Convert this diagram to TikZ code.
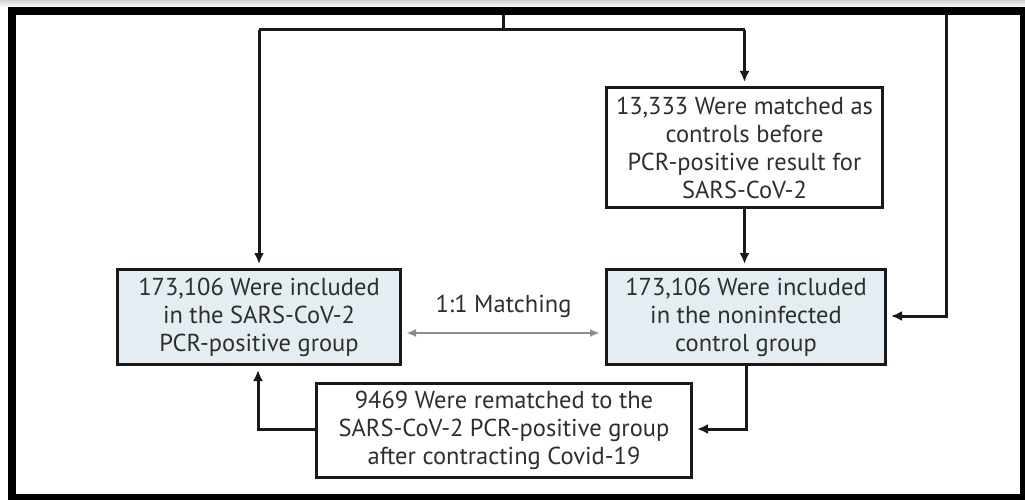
\documentclass[tikz,border=0pt]{standalone}
\usepackage{fontspec}
\setmainfont{PT Sans}
\usetikzlibrary{arrows.meta}
\definecolor{boxfill}{HTML}{E4EDF2}
\definecolor{txt}{HTML}{2E2E2E}
\begin{document}
\begin{tikzpicture}[x=1pt,y=-1pt,
  every node/.style={inner sep=0pt},
  box/.style={draw=black!90, line width=3pt, align=center, text=txt,
    font=\fontsize{24.5}{28}\selectfont},
  conn/.style={line width=3pt, draw=black!90, -{Latex[length=11pt,width=10pt]}, shorten >=4pt},
  plain/.style={line width=3pt, draw=black!90},
  match/.style={line width=2pt, draw=black!45, {Latex[length=10pt,width=8pt]}-{Latex[length=10pt,width=8pt]}}]
\useasboundingbox (0,0) rectangle (1025,500);
\shade[top color=black!18, bottom color=white] (0,0) rectangle (1025,7);
\draw[line width=8pt] (12,503) -- (12,11) -- (1024,11) -- (1024,503);
\draw[line width=8pt] (8,498) -- (1030,498);

\node[box, minimum width=276pt, minimum height=120pt] (ctrl) at (744.5,147.5)
  {13,333 Were matched as\\controls before\\PCR-positive result for\\SARS-CoV-2};
\node[box, fill=boxfill, minimum width=283pt, minimum height=95pt] (pos) at (259,317)
  {173,106 Were included\\in the SARS-CoV-2\\PCR-positive group};
\node[box, fill=boxfill, minimum width=279pt, minimum height=95pt] (neg) at (746,317)
  {173,106 Were included\\in the noninfected\\control group};
\node[box, minimum width=375pt, minimum height=94pt] (rem) at (504,430.5)
  {9469 Were rematched to the\\SARS-CoV-2 PCR-positive group\\after contracting Covid-19};

\coordinate (top) at (503,15);
\coordinate (split) at (503,30);
\coordinate (sl) at (259,30);
\coordinate (sr) at (744.5,30);
\coordinate (rtop) at (946,15);
\coordinate (rcorner) at (946,316);
\coordinate (ncorner) at (746,429);
\coordinate (pcorner) at (258,429);

\draw[plain] (top) -- (split);
\draw[plain] (sl) -- (sr);
\draw[conn] (sl) -- (pos.north);
\draw[conn] (sr) -- (ctrl.north);
\draw[conn] (ctrl.south) -- (ctrl.south |- neg.north);
\draw[conn] (rtop) -- (rcorner) -- (neg.east |- rcorner);
\draw[conn] (neg.south) -- (ncorner) -- (rem.east |- ncorner);
\draw[conn] (rem.west |- pcorner) -- (pcorner) -- (pcorner |- pos.south);
\draw[match, shorten <=4pt, shorten >=5pt] (pos.east |- 0,333) -- node[above=14pt, text=txt, font=\fontsize{24.5}{28}\selectfont] (mlabel) {1:1 Matching} (neg.west |- 0,333);
\end{tikzpicture}
\end{document}
